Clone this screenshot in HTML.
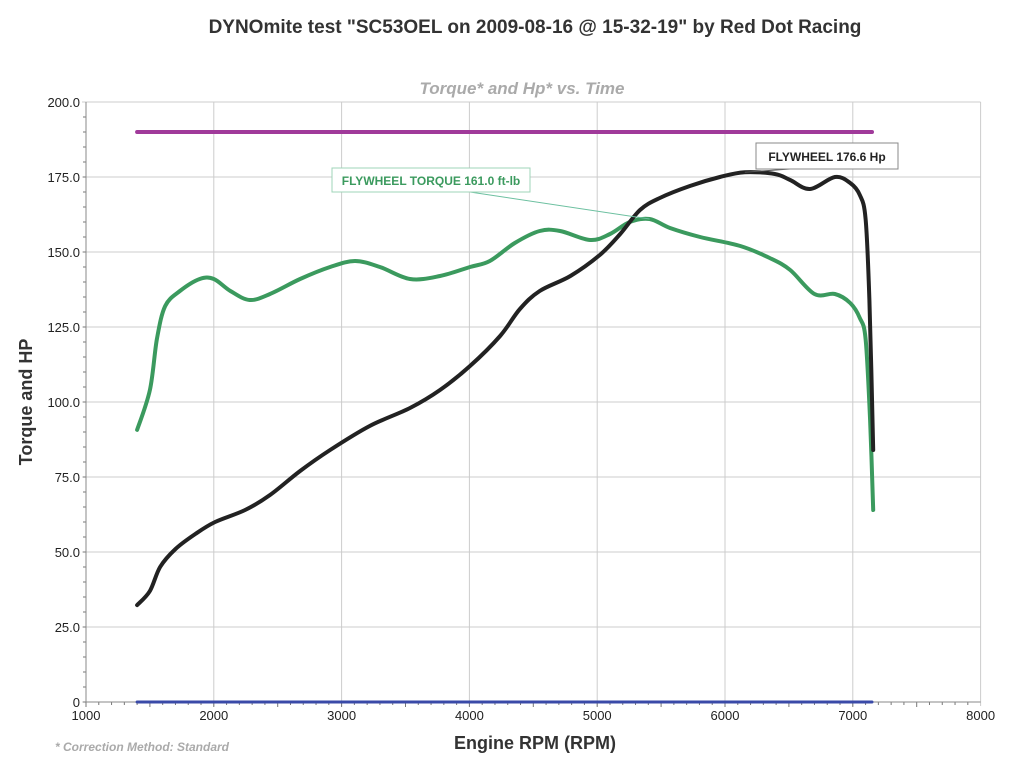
<!DOCTYPE html>
<html><head><meta charset="utf-8"><style>
body{margin:0;background:#fff;width:1021px;height:765px;overflow:hidden;font-family:"Liberation Sans",sans-serif}
</style></head><body>
<svg width="1021" height="765" id="chart" xmlns="http://www.w3.org/2000/svg" font-family="Liberation Sans, sans-serif">
<text x="535" y="33" text-anchor="middle" font-size="19" font-weight="bold" fill="#333">DYNOmite test "SC53OEL on 2009-08-16 @ 15-32-19" by Red Dot Racing</text>
<text x="522" y="94" text-anchor="middle" font-size="17" font-weight="bold" font-style="italic" fill="#aaa">Torque* and Hp* vs. Time</text>
<text transform="translate(32,402) rotate(-90)" text-anchor="middle" font-size="18" font-weight="bold" fill="#333">Torque and HP</text>
<text x="535" y="749" text-anchor="middle" font-size="18" font-weight="bold" fill="#333">Engine RPM (RPM)</text>
<text x="55" y="751" font-size="12" font-weight="bold" font-style="italic" fill="#aaa">* Correction Method: Standard</text>
<g id="grid"></g><g id="series"></g><g id="annot"></g>
</svg>
<script>
const rpmTicks=[1000,2000,3000,4000,5000,6000,7000,8000];
const yTicks=[0,25,50,75,100,125,150,175,200];
const torqueRpm=[1400,1500,1555,1620,1735,1890,2000,2130,2280,2440,2675,2910,3105,3300,3535,3770,4005,4160,4355,4550,4710,4945,5100,5255,5410,5570,5805,6120,6350,6510,6700,6860,6980,7055,7100,7135,7160];
const torqueVal=[90.7,104,121,132,137,141,141,137,134,136,141,145,147,145,141,142,145,147,153,157,157,154,156,160,161,158,155,152,148,144,136,136,133,128,121,94,64];
const hpRpm=[1400,1500,1580,1700,1855,2010,2245,2440,2675,2910,3220,3535,3770,4005,4240,4395,4550,4790,5020,5180,5335,5490,5725,5960,6155,6390,6510,6665,6860,6980,7055,7100,7130,7160];
const hpVal=[32.3,37,45,51,56,60,64,69,77,84,92,98,104,112,122,131,137,142,149,156,164,168,172,175,176.6,176,174,171,175,173,169,161,134,84];
const refRpm=[1400,7150];
const refVal=[190,190];
const zeroVal=[0,0];
const X=r=>86+(r-1000)*0.1278;
const Y=v=>702-v*3;
const NS="http://www.w3.org/2000/svg";
function mk(t,a,p){const e=document.createElementNS(NS,t);for(const k in a)e.setAttribute(k,a[k]);p.appendChild(e);return e;}
const g=document.getElementById('grid');
rpmTicks.forEach(r=>{
 const l=mk('line',{x1:X(r),x2:X(r),y1:Y(200),y2:Y(0)+4,stroke:'#ccc','stroke-width':1},g);
 
 
 const t=mk('text',{x:X(r),y:720,'text-anchor':'middle','font-size':13,fill:'#222'},g);t.textContent=r;
 
 
});
for(let r=1000;r<8000;r+=100){mk('line',{x1:X(r),x2:X(r),y1:702,y2:r%500?705:707,stroke:'#777'},g);}
yTicks.forEach(v=>{
 const l=mk('line',{x1:X(1000)-4,x2:X(8000),y1:Y(v),y2:Y(v),stroke:'#ccc','stroke-width':1},g);
 
 
 const t=mk('text',{x:80,y:Y(v)+5,'text-anchor':'end','font-size':13,fill:'#222'},g);t.textContent=v===0?'0':v.toFixed(1);
 
 
});
for(let v=0;v<200;v+=5){mk('line',{x1:X(1000)-3,x2:X(1000),y1:Y(v),y2:Y(v),stroke:'#777'},g);}
mk('line',{x1:X(1000),x2:X(1000),y1:Y(200),y2:Y(0),stroke:'#888'},g);
mk('line',{x1:X(1000),x2:X(8000),y1:Y(0),y2:Y(0),stroke:'#888'},g);
const s=document.getElementById('series');
function path(xs,ys,col,w,name){
 const P=xs.map((r,i)=>[X(r),Y(ys[i])]);
 let d='M'+P[0][0].toFixed(1)+','+P[0][1].toFixed(1);
 for(let i=0;i<P.length-1;i++){
  const p0=P[i-1]||P[i],p1=P[i],p2=P[i+1],p3=P[i+2]||P[i+1];
  const c1=[p1[0]+(p2[0]-p0[0])/6,p1[1]+(p2[1]-p0[1])/6];
  const c2=[p2[0]-(p3[0]-p1[0])/6,p2[1]-(p3[1]-p1[1])/6];
  d+='C'+c1.map(n=>n.toFixed(1)).join(',')+' '+c2.map(n=>n.toFixed(1)).join(',')+' '+p2.map(n=>n.toFixed(1)).join(',');
 }
 const p=mk('path',{d:d,fill:'none',stroke:col,'stroke-width':w,'stroke-linejoin':'round','stroke-linecap':'round'},s);
 
 
}
path(refRpm,refVal,'#a03a9a',4,'reference-line');
path(refRpm,zeroVal,'#3a4aa8',3,'zero-line');
path(torqueRpm,torqueVal,'#3b9a5e',4,'torque-line');
path(hpRpm,hpVal,'#222',4,'hp-line');
const a=document.getElementById('annot');
mk('line',{x1:470,y1:192,x2:X(5410),y2:Y(161),stroke:'#6cc0a0','stroke-width':1},a);
mk('line',{x1:790,y1:169,x2:X(6155),y2:Y(176.6),stroke:'#555','stroke-width':1},a);
const b1=mk('rect',{x:332,y:168,width:198,height:24,fill:'#fff',stroke:'#9fd4b8'},a);


const t1=mk('text',{x:431,y:185,'text-anchor':'middle','font-size':12,'font-weight':'bold',fill:'#3b9a5e'},a);t1.textContent='FLYWHEEL TORQUE 161.0 ft-lb';
const b2=mk('rect',{x:756,y:143,width:142,height:26,fill:'#fff',stroke:'#888'},a);


const t2=mk('text',{x:827,y:161,'text-anchor':'middle','font-size':12,'font-weight':'bold',fill:'#222'},a);t2.textContent='FLYWHEEL 176.6 Hp';
</script>
</body></html>
